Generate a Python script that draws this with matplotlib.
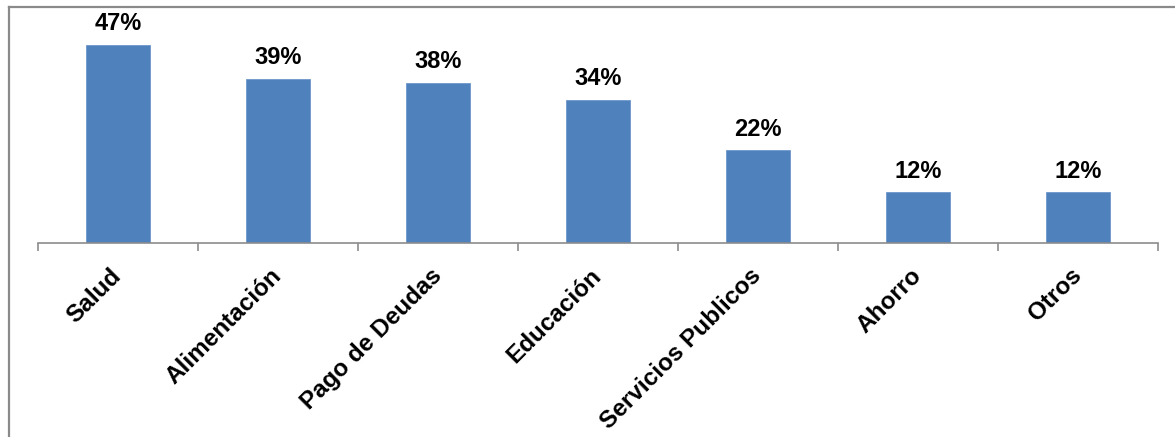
import matplotlib.pyplot as plt
import numpy as np

categories = ["Salud", "Alimentación", "Pago de Deudas", "Educación",
              "Servicios Publicos", "Ahorro", "Otros"]
values = [47, 39, 38, 34, 22, 12, 12]
value_labels = ["47%", "39%", "38%", "34%", "22%", "12%", "12%"]

plt.rcParams['font.family'] = ['Liberation Sans', 'DejaVu Sans']

W, H = 1175, 437
fig = plt.figure(figsize=(W / 100, H / 100), dpi=100)
fig.patch.set_facecolor('white')

# outer frame (left and top edges)
frame_col = '#8a8a8a'
fig.add_artist(plt.Line2D([8.5 / W, 8.5 / W], [0, 1 - 6.5 / H],
                          transform=fig.transFigure, color=frame_col, lw=1.6))
fig.add_artist(plt.Line2D([8.5 / W, 1], [1 - 6.5 / H, 1 - 6.5 / H],
                          transform=fig.transFigure, color=frame_col, lw=1.6))

left, right = 38 / W, 1158 / W
bottom = (H - 243) / H
top = (H - 32.4) / H
ax = fig.add_axes([left, bottom, right - left, top - bottom])

x = np.arange(len(categories))
bars = ax.bar(x, values, width=0.4, color='#4f81bd', edgecolor='#6d97cc',
              linewidth=0.6, zorder=2)

for xi, v, lab in zip(x, values, value_labels):
    ax.annotate(lab, (xi, v), xytext=(0, 7), textcoords='offset points',
                ha='center', va='bottom', fontsize=17, fontweight='bold',
                color='#000000')

ax.set_xlim(-0.5, len(categories) - 0.5)
ax.set_ylim(0, 50)

for s in ['top', 'right', 'left']:
    ax.spines[s].set_visible(False)
ax.spines['bottom'].set_color('#8c8c8c')
ax.spines['bottom'].set_linewidth(1.2)
ax.set_yticks([])

ax.set_xticks(x)
ax.set_xticklabels(categories, rotation=45, ha='right', va='center',
                   rotation_mode='anchor', fontsize=17.5, fontweight='bold',
                   color='#000000')
ax.tick_params(axis='x', which='major', length=0, pad=21)
ax.set_xticks(np.arange(-0.5, len(categories)), minor=True)
ax.tick_params(axis='x', which='minor', length=6, width=1.2, color='#8c8c8c',
               direction='out')

fig.savefig('out.png', dpi=100, facecolor='white')
